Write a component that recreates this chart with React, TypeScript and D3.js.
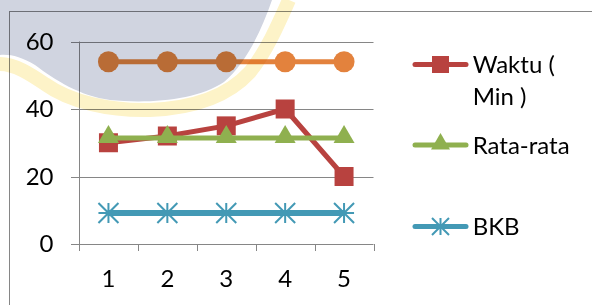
import React, { useEffect, useRef } from 'react';
import * as d3 from 'd3';

const categories = ["1", "2", "3", "4", "5"];
const seriesAtas = [54, 54, 54, 54, 54];
const waktu = [30, 32, 35, 40, 20];
const rataRata = [31.4, 31.4, 31.4, 31.4, 31.4];
const bkb = [9.2, 9.2, 9.2, 9.2, 9.2];
const yTicks = [0, 20, 40, 60];

const legendItems = [
    { lines: ["Waktu (", "Min )"], color: "#b8423f", marker: "square" },
    { lines: ["Rata-rata"], color: "#8fb04f", marker: "triangle" },
    { lines: ["BKB"], color: "#4399b5", marker: "star" },
];

const W = 592;
const H = 305;
const FONT = "Lato, 'Open Sans', sans-serif";

function drawMarker(g: any, type: string, x: number, y: number, color: string, size: number) {
    if (type === "star") {
        const r = size / 2;
        const p = `M${x - r},${y - r}L${x + r},${y + r}M${x - r},${y + r}L${x + r},${y - r}M${x},${y - r}L${x},${y + r}M${x - r},${y}L${x + r},${y}`;
        g.append("path").attr("d", p).attr("stroke", color).attr("stroke-width", 2).attr("fill", "none");
        return;
    }
    let sym = d3.symbolCircle;
    let area = Math.PI * (size / 2) * (size / 2);
    if (type === "square") { sym = d3.symbolSquare; area = size * size; }
    if (type === "triangle") { sym = d3.symbolTriangle; area = size * size * 0.433; }
    g.append("path")
        .attr("d", d3.symbol().type(sym).size(area)())
        .attr("transform", `translate(${x},${type === "triangle" ? y - 1 : y})`)
        .attr("fill", color);
}

export default function App() {
    const ref = useRef<SVGSVGElement>(null);

    useEffect(() => {
        const svg = d3.select(ref.current);
        svg.selectAll("*").remove();

        const x = d3.scaleBand().domain(categories).range([79, 373.5]);
        const y = d3.scaleLinear().domain([0, 60]).range([244, 41.5]);
        const cx = (c: string) => (x(c) as number) + x.bandwidth() / 2;

        svg.append("rect").attr("width", W).attr("height", H).attr("fill", "#fff");

        // outer chart frame
        svg.append("rect")
            .attr("x", 9.5).attr("y", 11.5).attr("width", W + 20).attr("height", H + 20)
            .attr("fill", "none").attr("stroke", "#868686");

        // gridlines + y labels
        yTicks.forEach(t => {
            svg.append("line")
                .attr("x1", 71).attr("x2", 373.5)
                .attr("y1", Math.round(y(t)) + 0.5).attr("y2", Math.round(y(t)) + 0.5)
                .attr("stroke", "#868686").attr("stroke-width", 1);
            svg.append("text")
                .attr("x", 53.5).attr("y", y(t) + 8.3)
                .attr("text-anchor", "end")
                .style("font-family", FONT).style("font-size", "24px")
                .attr("fill", "#000")
                .text(t);
        });

        // y axis
        svg.append("line").attr("x1", 79.5).attr("x2", 79.5).attr("y1", y(60)).attr("y2", y(0))
            .attr("stroke", "#868686");
        // x ticks
        const edges = categories.map(c => x(c) as number).concat([373.5]);
        edges.forEach(e => {
            svg.append("line").attr("x1", Math.round(e) + 0.5).attr("x2", Math.round(e) + 0.5)
                .attr("y1", 244).attr("y2", 251)
                .attr("stroke", "#868686");
        });
        categories.forEach(c => {
            svg.append("text")
                .attr("x", cx(c)).attr("y", 286.7)
                .attr("text-anchor", "middle")
                .style("font-family", FONT).style("font-size", "24px")
                .text(c);
        });

        const line = d3.line<number>()
            .x((d, i) => cx(categories[i]))
            .y(d => y(d));

        const series = [
            { data: seriesAtas, color: "#e3823d", marker: "circle", size: 21, width: 5 },
            { data: waktu, color: "#b8423f", marker: "square", size: 19, width: 5 },
            { data: rataRata, color: "#8fb04f", marker: "triangle", size: 21, width: 5 },
            { data: bkb, color: "#4399b5", marker: "star", size: 20, width: 6 },
        ];

        series.forEach(s => {
            const g = svg.append("g");
            g.append("path")
                .attr("d", line(s.data))
                .attr("fill", "none")
                .attr("stroke", s.color)
                .attr("stroke-width", s.width)
                .attr("stroke-linejoin", "round");
            s.data.forEach((d, i) => drawMarker(g, s.marker, cx(categories[i]), y(d), s.color, s.size));
        });

        // legend
        const legendY = [64.5, 145, 226.5];
        legendItems.forEach((item, i) => {
            const g = svg.append("g");
            const ly = legendY[i];
            g.append("line")
                .attr("x1", 415).attr("x2", 466).attr("y1", ly).attr("y2", ly)
                .attr("stroke", item.color).attr("stroke-width", 5).attr("stroke-linecap", "round");
            drawMarker(g, item.marker, 440.5, ly, item.color, item.marker === "triangle" ? 19 : 17);
            item.lines.forEach((t, j) => {
                g.append("text")
                    .attr("x", 472.7).attr("y", ly + 8.5 + j * 32)
                    .style("font-family", FONT).style("font-size", "24px")
                    .attr("fill", "#000")
                    .text(t);
            });
        });

        // faint watermark over the top-left corner
        svg.append("path")
            .attr("d", "M0,0H272C260,35 244,65 224,82C197,100 150,104 110,100C80,96 55,80 35,65C22,57 10,54 0,55Z")
            .attr("fill", "#d0d4e0")
            .style("mix-blend-mode", "multiply");
        svg.append("path")
            .attr("d", "M0,64C15,64 30,74 45,84C70,102 110,111 150,110C198,108 230,94 250,72C266,52 278,25 289,0")
            .attr("fill", "none")
            .attr("stroke", "#fdf3c8")
            .attr("stroke-width", 14)
            .style("mix-blend-mode", "multiply");
    }, []);

    return (
        <svg ref={ref} width={W} height={H}
            style={{ position: "absolute", left: 0, top: 0, display: "block" }} />
    );
}
